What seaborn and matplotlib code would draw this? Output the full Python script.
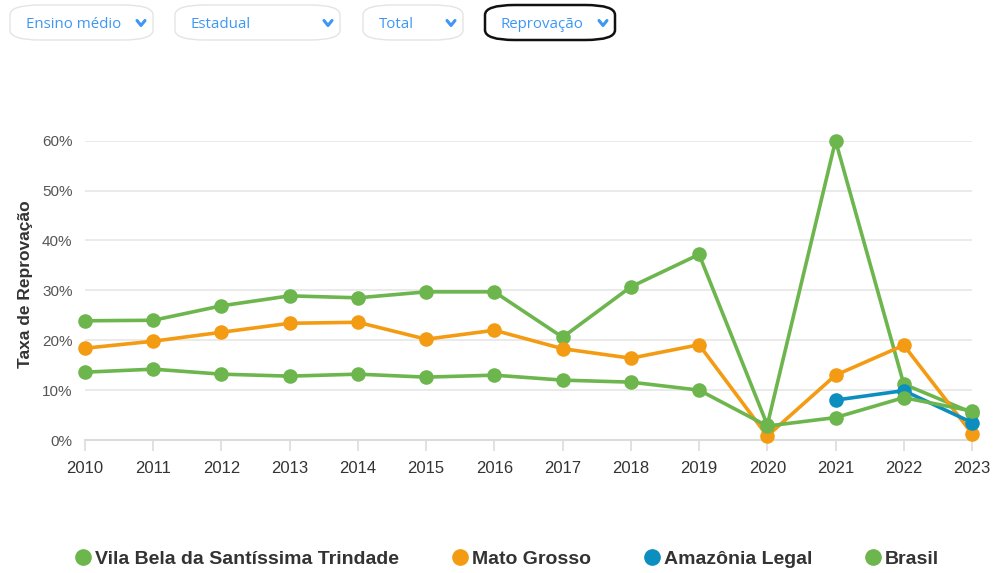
import numpy as np
import pandas as pd
import matplotlib
matplotlib.use("Agg")
import matplotlib.pyplot as plt
import seaborn as sns
from matplotlib.patches import FancyBboxPatch
from matplotlib.lines import Line2D

# Data (failure rate, %)
years = [2010, 2011, 2012, 2013, 2014, 2015, 2016, 2017, 2018, 2019, 2020, 2021, 2022, 2023]
vila_bela = [23.9, 24.0, 26.9, 28.9, 28.5, 29.7, 29.7, 20.6, 30.7, 37.2, 3.0, 60.0, 11.2, 5.5]
mato_grosso = [18.4, 19.8, 21.6, 23.4, 23.6, 20.2, 22.0, 18.3, 16.4, 19.1, 0.8, 13.0, 19.0, 1.3]
amazonia_years = [2021, 2022, 2023]
amazonia = [8.0, 9.9, 3.5]
brasil = [13.6, 14.2, 13.2, 12.8, 13.2, 12.6, 13.0, 12.0, 11.6, 10.0, 2.8, 4.5, 8.5, 5.8]

series_names = ["Vila Bela da Santíssima Trindade", "Mato Grosso", "Amazônia Legal", "Brasil"]
colors = ["#6DB64E", "#F39C13", "#0C8FBF", "#6DB64E"]
filters = ["Ensino médio", "Estadual", "Total", "Reprovação"]

sns.set_theme(style="white")
plt.rcParams["font.family"] = ["Liberation Sans", "DejaVu Sans"]

fig = plt.figure(figsize=(9.93, 5.73), dpi=100)
ax = fig.add_axes([85 / 993, 133 / 573, 887 / 993, 299.3 / 573])

frames = [
    pd.DataFrame({"ano": years, "taxa": vila_bela}),
    pd.DataFrame({"ano": years, "taxa": mato_grosso}),
    pd.DataFrame({"ano": amazonia_years, "taxa": amazonia}),
    pd.DataFrame({"ano": years, "taxa": brasil}),
]
for i, df in enumerate(frames):
    sns.lineplot(data=df, x="ano", y="taxa", ax=ax, color=colors[i], linewidth=2.6,
                 marker="o", markersize=10.5, markeredgewidth=0, clip_on=False,
                 zorder=3 + i, legend=False)

ax.set_xlim(2010, 2023)
ax.set_ylim(0, 60)
ax.set_yticks(np.arange(0, 61, 10))
ax.set_yticklabels([f"{v}%" for v in range(0, 61, 10)])
ax.set_xticks(years)
ax.set_xticklabels([str(y) for y in years])
ax.grid(axis="y", color="#e6e6e6", linewidth=1.2)
ax.grid(axis="x", visible=False)
for s in ["top", "right", "left"]:
    ax.spines[s].set_visible(False)
ax.spines["bottom"].set_color("#dcdcdc")
ax.spines["bottom"].set_linewidth(1.5)
ax.tick_params(axis="x", colors="#dcdcdc", length=8, width=1.2, direction="out",
               labelcolor="#333333", labelsize=12, pad=7, bottom=True)
ax.tick_params(axis="y", length=0, labelcolor="#555555", labelsize=11, pad=9)
ax.set_xlabel("")
ax.set_ylabel("Taxa de Reprovação", fontsize=12.5, fontweight="bold", color="#333333")
ax.yaxis.set_label_coords(-52 / 887, 0.52)

# Legend
handles = [Line2D([], [], linestyle="none", marker="o", markersize=11, color=c) for c in colors]
leg = fig.legend(handles, series_names, loc="center", bbox_to_anchor=(0.51, 1 - 559 / 573),
                 ncol=4, frameon=False, handletextpad=0.1, columnspacing=2.65,
                 handlelength=1.0, prop={"size": 14, "weight": "bold"})
for t in leg.get_texts():
    t.set_color("#333333")

# Filter dropdowns at the top
boxes = [(10, 153), (175, 340), (363, 463), (485, 615)]
for (x0, x1), label in zip(boxes, filters):
    active = label == "Reprovação"
    box = FancyBboxPatch((x0 / 993, 1 - 40 / 573), (x1 - x0) / 993, 35 / 573,
                         boxstyle="round,pad=0,rounding_size=0.03",
                         transform=fig.transFigure, facecolor="white",
                         edgecolor="#111111" if active else "#e4e4e4",
                         linewidth=1.8 if active else 1.0, mutation_aspect=573 / 993)
    fig.patches.append(box)
    fig.text((x0 + 16) / 993, 1 - 24 / 573, label, fontsize=10.8, color="#3d97f5",
             family=["Open Sans", "DejaVu Sans"], va="center", ha="left")
    cx = (x1 - 12) / 993
    cy = 1 - 23 / 573
    fig.add_artist(Line2D([cx - 4 / 993, cx, cx + 4 / 993], [cy + 2.5 / 573, cy - 2.5 / 573, cy + 2.5 / 573],
                          transform=fig.transFigure, color="#3d97f5", linewidth=2.2,
                          solid_capstyle="round", solid_joinstyle="round"))

fig.savefig("out.png", dpi=100)
